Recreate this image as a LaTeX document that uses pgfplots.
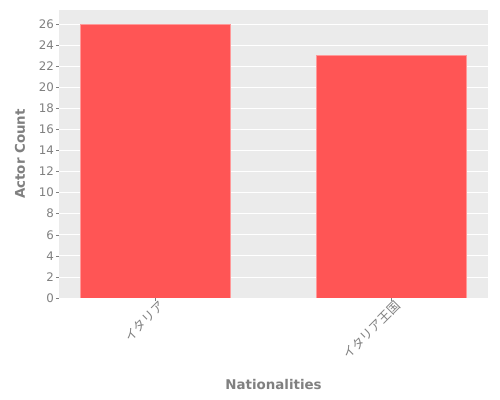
\documentclass[border=0pt]{standalone}
\usepackage{pgfplots}
\pgfplotsset{compat=1.18}
\usepackage{fontspec}
\setmainfont{DejaVu Sans}
\newfontfamily\cjk{Noto Sans CJK JP}
\definecolor{panelbg}{HTML}{EBEBEB}
\definecolor{barred}{HTML}{FF5555}
\definecolor{txtgray}{HTML}{808080}

\begin{document}
\begin{tikzpicture}
\useasboundingbox[fill=white] (0,0) rectangle (500bp,400bp);
\begin{axis}[
    at={(59bp,102bp)}, anchor=south west,
    scale only axis,
    width=429bp, height=288bp,
    ybar, bar width=0.636,
    xmin=-0.407, xmax=1.41,
    ymin=0, ymax=27.33,
    xtick={0,1},
    xticklabels={{\cjk イタリア},{\cjk イタリア王国}},
    xticklabel style={rotate=45, anchor=north east, font=\fontsize{12.5bp}{14bp}\selectfont, text=txtgray, inner sep=1bp, xshift=4bp},
    ytick={0,2,...,26},
    yticklabel style={font=\fontsize{11.8bp}{14bp}\selectfont, text=txtgray, inner sep=2bp},
    /pgf/number format/assume math mode=true,
    axis background/.style={fill=panelbg},
    axis line style={draw=none},
    ymajorgrids, grid style={white, line width=0.8bp},
    tick style={txtgray, line width=0.5bp},
    tick align=outside, major tick length=3bp,
    xtick pos=bottom, ytick pos=left,
    ylabel={Actor Count},
    xlabel={Nationalities},
    label style={font=\bfseries\fontsize{13.4bp}{16bp}\selectfont, text=txtgray},
    ylabel style={at={(axis description cs:-0.091,0.5)}, anchor=center},
    xlabel style={at={(axis description cs:0.5,-0.302)}, anchor=center},
  ]
  \addplot[fill=barred, draw=barred!60!white, line width=0.5bp] coordinates {(0,26) (1,23)};
\end{axis}
\end{tikzpicture}
\end{document}
